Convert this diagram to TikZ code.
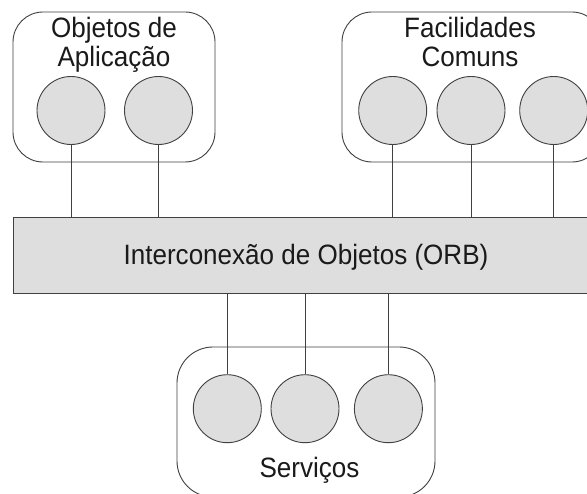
\documentclass[tikz,border=0pt]{standalone}
\usepackage{fontspec}
\setmainfont[FakeStretch=0.93]{Liberation Sans}
\definecolor{ln}{HTML}{404040}
\definecolor{fl}{HTML}{DEDEDE}
\definecolor{tx}{HTML}{1A1A1A}
\begin{document}
\begin{tikzpicture}[x=1pt,y=-1pt,
  grp/.style={draw=ln,line width=0.9pt,rounded corners=30pt},
  obj/.style={circle,draw=ln,fill=fl,line width=0.9pt,minimum size=68pt,inner sep=0pt},
  lbl/.style={anchor=base,inner sep=0pt,text=tx,font=\fontsize{28}{30}\selectfont},
  bus/.style={draw=ln,fill=fl,line width=0.9pt,minimum width=586pt,minimum height=76pt,
    text height=24pt,text depth=4pt,text=tx,font=\fontsize{28}{30}\selectfont},
  wire/.style={draw=ln,line width=0.9pt}]
\useasboundingbox (0,0) rectangle (587,494);
\clip (0,0) rectangle (587,494);
\fill[white] (0,0) rectangle (587,494);
% groups
\draw[grp] (13,12) rectangle (215,162);
\draw[grp] (342,12) rectangle (602,162);
\draw[grp,rounded corners=36pt] (177,347) rectangle (435,497);
% titles
\node[lbl] (t1) at (114,38) {Objetos de};
\node[lbl] (t2) at (114,67) {Aplicação};
\node[lbl] (t3) at (470,38) {Facilidades};
\node[lbl] (t4) at (470,67) {Comuns};
\node[lbl] (t5) at (309.5,478) {Serviços};
% bus
\node[bus] (orb) at (306,255) {Interconexão de Objetos (ORB)};
% objects
\node[obj] (a1) at (71,110.5) {};
\node[obj] (a2) at (158.5,110.5) {};
\node[obj] (f1) at (392.7,110.5) {};
\node[obj] (f2) at (471,110.5) {};
\node[obj] (f3) at (553.7,110.5) {};
\node[obj] (s1) at (227.3,408.7) {};
\node[obj] (s2) at (305,408.7) {};
\node[obj] (s3) at (388.4,408.7) {};
% connectors
\foreach \n in {a1,a2,f1,f2,f3}{
  \draw[wire] (\n.south) -- (\n.south |- orb.north);
}
\foreach \n in {s1,s2,s3}{
  \draw[wire] (\n.north) -- (\n.north |- orb.south);
}
\end{tikzpicture}
\end{document}
